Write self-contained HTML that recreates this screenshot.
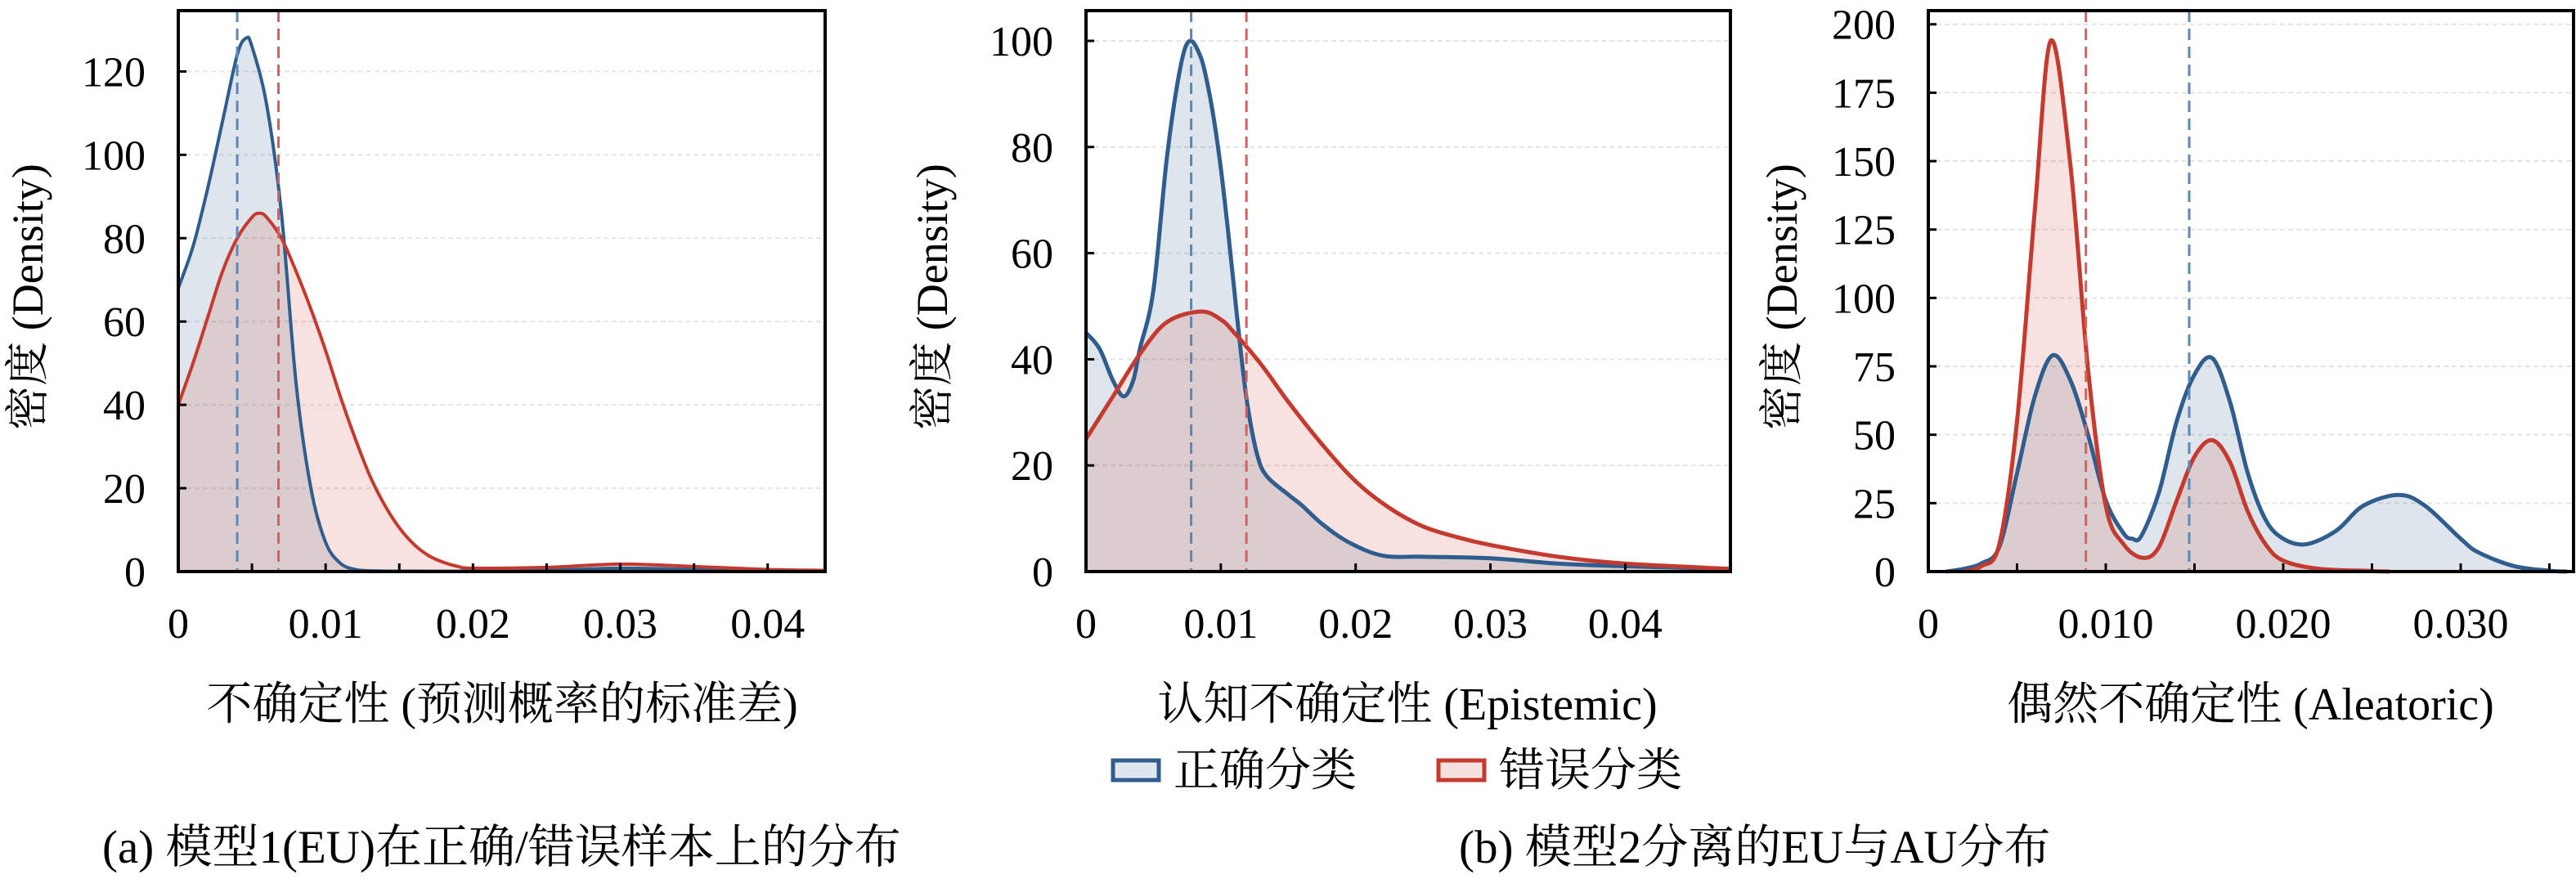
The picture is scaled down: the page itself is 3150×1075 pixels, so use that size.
<!DOCTYPE html>
<html><head><meta charset="utf-8">
<style>
html,body{margin:0;padding:0;background:#fff;}
svg{display:block;}
text{font-family:"Liberation Serif","Noto Serif CJK SC","Noto Sans CJK SC",serif;fill:#000;}
</style></head>
<body>
<svg id="fig" width="3150" height="1075" viewBox="0 0 3150 1075" xmlns="http://www.w3.org/2000/svg" font-family="Liberation Serif, Noto Serif CJK SC, serif">
  <g id="p1"></g>
  <g id="p2"></g>
  <g id="p3"></g>
  <g>
    <rect x="1361" y="930" width="56" height="24" fill="#dfe6ee" stroke="#2f5d8e" stroke-width="5"/>
    <text x="1435" y="961" font-size="56">正确分类</text>
    <rect x="1759" y="930" width="56" height="24" fill="#f5e0e0" stroke="#c43a2e" stroke-width="5"/>
    <text x="1833" y="961" font-size="56">错误分类</text>
  </g>
  <text x="125" y="1055" font-size="57">(a) 模型1(EU)在正确/错误样本上的分布</text>
  <text x="1784" y="1055" font-size="57">(b) 模型2分离的EU与AU分布</text>
</svg>
<script>
// ---- Panel 1 data ----
const p1X = [0,0.001,0.002,0.003,0.004,0.0046,0.005,0.006,0.007,0.008,0.009,0.010,0.011,0.012,0.013,0.015,0.02,0.025,0.03,0.035,0.04,0.0439];
const p1Correct = [68,78,92,108,124,128,126,112,86,45,20,7,2,0.5,0.2,0.1,0.1,0.3,0.8,0.5,0.2,0.1];
const p1WrongX = [0,0.001,0.002,0.003,0.004,0.005,0.0055,0.006,0.007,0.008,0.009,0.010,0.011,0.012,0.013,0.014,0.015,0.016,0.017,0.018,0.019,0.02,0.025,0.03,0.035,0.04,0.0439];
const p1Wrong = [40,50,61,72,80,85,86,85,80,72,63,53,42,32,23,16,10.5,6.5,3.8,2.2,1.2,0.8,1,1.8,1.2,0.5,0.3];
const p1Means = [0.0040,0.0068];
const p1YTicks = [0,20,40,60,80,100,120];
const p1XLabels = ["0","0.01","0.02","0.03","0.04"];
const p1XLabelVals = [0,0.01,0.02,0.03,0.04];

// ---- Panel 2 data ----
const p2X = [0,0.001,0.002,0.0028,0.0035,0.004,0.005,0.006,0.007,0.0077,0.0085,0.009,0.0095,0.010,0.0105,0.011,0.0115,0.012,0.0127,0.0134,0.015,0.016,0.0175,0.0195,0.022,0.025,0.03,0.035,0.04,0.0478];
const p2Correct = [45,42,36,33,36,42,53,78,95,100,97,92,85,76,65,53,41,31,22,18,14.5,12.5,9,5.5,3,2.8,2.5,1.5,1,0.5];
const p2WrongX = [0,0.002,0.004,0.006,0.0085,0.010,0.011,0.013,0.015,0.0175,0.02,0.0225,0.025,0.0275,0.03,0.035,0.04,0.0478];
const p2Wrong = [25,33,41,47,49,47.5,45,39,32,24,17,12,8.5,6.5,5,2.8,1.5,0.5];
const p2Means = [0.0078,0.0119];
const p2YTicks = [0,20,40,60,80,100];
const p2XLabels = ["0","0.01","0.02","0.03","0.04"];
const p2XLabelVals = [0,0.01,0.02,0.03,0.04];

// ---- Panel 3 data ----
const p3X = [0.001,0.002,0.003,0.004,0.005,0.006,0.007,0.008,0.009,0.010,0.011,0.0115,0.012,0.013,0.014,0.015,0.016,0.017,0.018,0.019,0.020,0.0213,0.023,0.0245,0.0265,0.028,0.03,0.031,0.033,0.035,0.036];
const p3Correct = [0,1,3,9,36,64,79,70,50,26,14,12,13,29,55,72,78,62,36,19,12,10,15,24,28,24,12,7,2,0.3,0];
const p3WrongX = [0.002,0.003,0.004,0.005,0.006,0.0069,0.008,0.009,0.010,0.011,0.0121,0.013,0.014,0.015,0.016,0.017,0.018,0.019,0.020,0.022,0.025,0.026];
const p3Wrong = [0,2,10,55,132,194,149,74,24,10,5,9,26,42,48,40,22,10,4,1,0.2,0];
const p3Means = [0.0147,0.00888];
const p3YTicks = [0,25,50,75,100,125,150,175,200];
const p3XLabels = ["0","0.010","0.020","0.030"];
const p3XLabelVals = [0,0.01,0.02,0.03];

const NS = "http://www.w3.org/2000/svg";
const BLUE = "#2f5d8e", RED = "#c43a2e";
function mk(parent, tag, attrs){
  const e = document.createElementNS(NS, tag);
  for (const k in attrs) e.setAttribute(k, attrs[k]);
  parent.appendChild(e);
  return e;
}
function smoothPath(pts){
  let d = "M" + pts[0][0].toFixed(2) + "," + pts[0][1].toFixed(2);
  for (let i = 0; i < pts.length - 1; i++){
    const p0 = pts[i-1] || pts[i], p1 = pts[i], p2 = pts[i+1], p3 = pts[i+2] || p2;
    const c1x = p1[0] + (p2[0]-p0[0])/6, c1y = p1[1] + (p2[1]-p0[1])/6;
    const c2x = p2[0] - (p3[0]-p1[0])/6, c2y = p2[1] - (p3[1]-p1[1])/6;
    d += " C" + c1x.toFixed(2)+","+c1y.toFixed(2)+" "+c2x.toFixed(2)+","+c2y.toFixed(2)+" "+p2[0].toFixed(2)+","+p2[1].toFixed(2);
  }
  return d;
}
function drawPanel(cfg){
  const g = document.getElementById(cfg.id);
  const L = cfg.left, R = cfg.right, T = 13, B = 699;
  const xs = v => L + (v - 0) / cfg.xmax * (R - L);
  const ys = v => B - v / cfg.ymax * (B - T);
  cfg.yTicks.forEach(t => {
    if (t === 0) return;
    const gl = mk(g, "line", {x1:L, x2:R, y1:ys(t), y2:ys(t), stroke:"#e4e4e4", "stroke-width":2, "stroke-dasharray":"6,4"});
    
    
  });
  const series = [
    {x: cfg.cx, y: cfg.cy, color: BLUE, fill: "rgba(47,93,142,0.16)", name: "correct"},
    {x: cfg.wx, y: cfg.wy, color: RED, fill: "rgba(200,60,50,0.15)", name: "wrong"}
  ];
  series.forEach(s => {
    const pts = s.x.map((v,i) => [xs(v), ys(s.y[i])]);
    const line = smoothPath(pts);
    const area = mk(g, "path", {d: line + " L" + pts[pts.length-1][0] + "," + B + " L" + pts[0][0] + "," + B + " Z", fill: s.fill, stroke: "none"});
    
    
  });
  series.forEach(s => {
    const pts = s.x.map((v,i) => [xs(v), ys(s.y[i])]);
    const ln = mk(g, "path", {d: smoothPath(pts), fill: "none", stroke: s.color, "stroke-width": cfg.lw, "stroke-linejoin":"round"});
    
    
  });
  cfg.means.forEach((m, i) => {
    const ml = mk(g, "line", {x1: xs(m), x2: xs(m), y1: T, y2: B, stroke: cfg.meanColors[i], "stroke-width": 3, "stroke-dasharray": "14,8"});
    
    
  });
  const fr = mk(g, "rect", {x: L, y: T, width: R - L, height: B - T, fill: "none", stroke: "#000", "stroke-width": 4});
  
  
  for (let v = cfg.xTickStep; v < cfg.xmax; v += cfg.xTickStep){
    const tk = mk(g, "line", {x1: xs(v), x2: xs(v), y1: B, y2: B - 10, stroke: "#000", "stroke-width": 3});
    
    
  }
  cfg.xLabelVals.forEach((v, i) => {
    const tl = mk(g, "text", {x: xs(v), y: 780, "font-size": 52, "text-anchor": "middle"});
    tl.textContent = cfg.xLabels[i];
    
    
  });
  cfg.yTicks.forEach(t => {
    const tk = mk(g, "line", {x1: L, x2: L + 10, y1: ys(t), y2: ys(t), stroke: "#000", "stroke-width": 3});
    
    
    const tl = mk(g, "text", {x: L - 40, y: ys(t) + 18, "font-size": 52, "text-anchor": "end"});
    tl.textContent = String(t);
    
    
  });
  const xt = mk(g, "text", {x: cfg.xTitleX, y: 880, "font-size": 56, "text-anchor": "middle"});
  xt.textContent = cfg.xTitle;
  
  
  const yt = mk(g, "text", {x: 0, y: 0, "font-size": 54, "text-anchor": "middle", transform: "translate(" + cfg.yTitleX + ",363) rotate(-90)"});
  yt.textContent = "密度 (Density)";
  
  
}
drawPanel({id:"p1", left:218, right:1009, xmax:0.0439, ymax:134.6, cx:p1X, cy:p1Correct, wx:p1WrongX, wy:p1Wrong,
  means:p1Means, meanColors:["#5a88b8","#d9605a"], yTicks:p1YTicks, xLabels:p1XLabels, xLabelVals:p1XLabelVals, xTickStep:0.005,
  xTitle:"不确定性 (预测概率的标准差)", xTitleX:614, yTitleX:52, lw:4});
drawPanel({id:"p2", left:1328, right:2116, xmax:0.0478, ymax:105.7, cx:p2X, cy:p2Correct, wx:p2WrongX, wy:p2Wrong,
  means:p2Means, meanColors:["#5a88b8","#d9605a"], yTicks:p2YTicks, xLabels:p2XLabels, xLabelVals:p2XLabelVals, xTickStep:0.01,
  xTitle:"认知不确定性 (Epistemic)", xTitleX:1721, yTitleX:1158, lw:5});
drawPanel({id:"p3", left:2358, right:3147, xmax:0.03636, ymax:205, cx:p3X, cy:p3Correct, wx:p3WrongX, wy:p3Wrong,
  means:p3Means, meanColors:["#5a88b8","#d9605a"], yTicks:p3YTicks, xLabels:p3XLabels, xLabelVals:p3XLabelVals, xTickStep:0.005,
  xTitle:"偶然不确定性 (Aleatoric)", xTitleX:2752, yTitleX:2197, lw:5});
</script>
</body></html>
